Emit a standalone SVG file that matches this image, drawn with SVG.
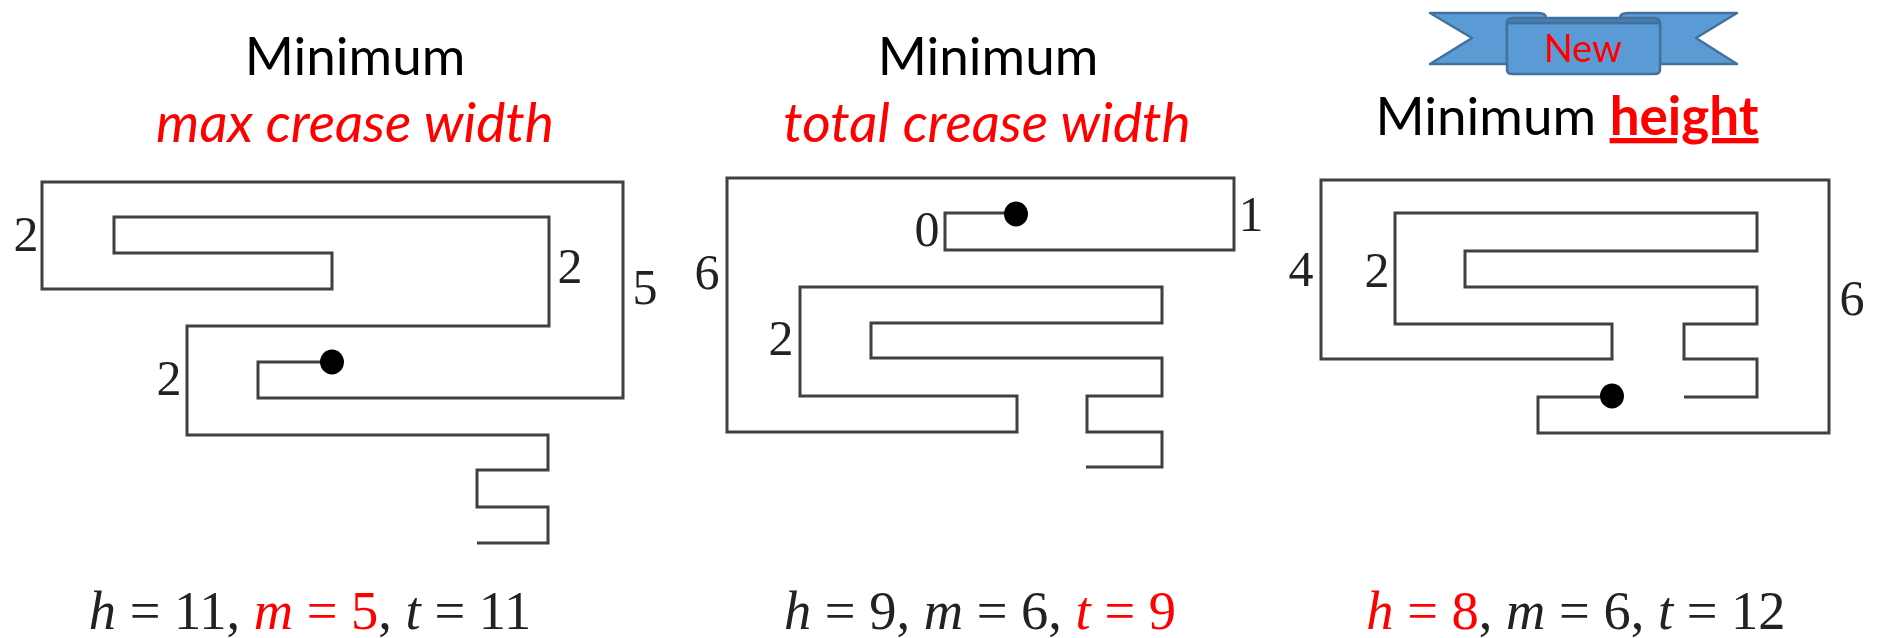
<svg xmlns="http://www.w3.org/2000/svg" width="1878" height="638" viewBox="0 0 1878 638">
<style>
.fold{fill:none;stroke:#3f3f3f;stroke-width:3;stroke-linejoin:miter}
.dot{fill:#000}
.t{font-family:"Lato","Liberation Sans",sans-serif;font-size:53px;text-anchor:middle;fill:#000}
.t2{font-size:55px}
.r{fill:#f00}
.n{font-family:"Liberation Serif",serif;font-size:50px;text-anchor:middle;fill:#222}
.f{font-family:"Liberation Serif",serif;font-size:54.5px;fill:#222;text-anchor:middle}
.i{font-style:italic}
.rib{fill:#5b9bd5;stroke:#41719c;stroke-width:2.5;stroke-linejoin:round}
.rib2{fill:#4a7fb0;stroke:#41719c;stroke-width:2.5;stroke-linejoin:round}
</style>
<defs><filter id="soft" x="-5%" y="-5%" width="110%" height="110%"><feGaussianBlur stdDeviation="0.6"/></filter></defs>
<g id="connectors" filter="url(#soft)">
<path class="fold" d="M332 362H258V398H623V182H42V289H332V253H114V217H549V326H187V435H548V470H477V507H548V543H477"/>
<path class="fold" d="M1016 213H945V250H1234V178H727V432H1017V396H800V287H1162V323H871V358H1162V396H1087V432H1162V467H1086"/>
<path class="fold" d="M1612 397H1538V433H1829V180H1321V359H1612V324H1395V213H1757V251H1465V287H1757V324H1684V359H1757V397H1684"/>
</g>
<g id="node-left">
<text class="t" x="355" y="75">Minimum</text>
<text class="t t2 r i" x="355" y="142">max crease width</text>
<ellipse class="dot" cx="332" cy="362" rx="12" ry="12.5" filter="url(#soft)"/>
<text class="n" x="26" y="251">2</text><text class="n" x="570" y="283">2</text><text class="n" x="645" y="304">5</text><text class="n" x="169" y="395">2</text>
<text class="f" x="310" y="629"><tspan class="i">h</tspan> = 11, <tspan class="r"><tspan class="i">m</tspan> = 5</tspan>, <tspan class="i">t</tspan> = 11</text>
</g>
<g id="node-middle">
<text class="t" x="988" y="75">Minimum</text>
<text class="t t2 r i" x="987" y="142">total crease width</text>
<ellipse class="dot" cx="1016" cy="214" rx="12" ry="12.5" filter="url(#soft)"/>
<text class="n" x="927" y="246">0</text><text class="n" x="1251" y="231">1</text><text class="n" x="707" y="289">6</text><text class="n" x="781" y="355">2</text>
<text class="f" x="980" y="629"><tspan class="i">h</tspan> = 9, <tspan class="i">m</tspan> = 6, <tspan class="r"><tspan class="i">t</tspan> = 9</tspan></text>
</g>
<g id="node-right">
<g id="ribbon">
<path class="rib" d="M1430 13H1538Q1546 13 1546 18V23H1507V64H1430L1472 38Z"/>
<path class="rib" d="M1737 13H1628Q1620 13 1620 18V23H1660V64H1737L1696 38Z"/>
<path class="rib" d="M1507 23H1660V70Q1660 74 1654 74H1513Q1507 74 1507 70Z"/>
<path class="rib2" d="M1507 23Q1507 18 1513 18H1654Q1660 18 1660 23Z"/>
<text x="1583" y="62" font-family="Lato,'Liberation Sans',sans-serif" font-size="38" text-anchor="middle" fill="#f00">New</text>
</g>
<text class="t" x="1567" y="135">Minimum <tspan class="r" font-weight="700" text-decoration="underline">height</tspan></text>
<ellipse class="dot" cx="1612" cy="396" rx="12" ry="12.5" filter="url(#soft)"/>
<text class="n" x="1301" y="286">4</text><text class="n" x="1377" y="287">2</text><text class="n" x="1852" y="315">6</text>
<text class="f" x="1576" y="629"><tspan class="r"><tspan class="i">h</tspan> = 8</tspan>, <tspan class="i">m</tspan> = 6, <tspan class="i">t</tspan> = 12</text>
</g>
</svg>
